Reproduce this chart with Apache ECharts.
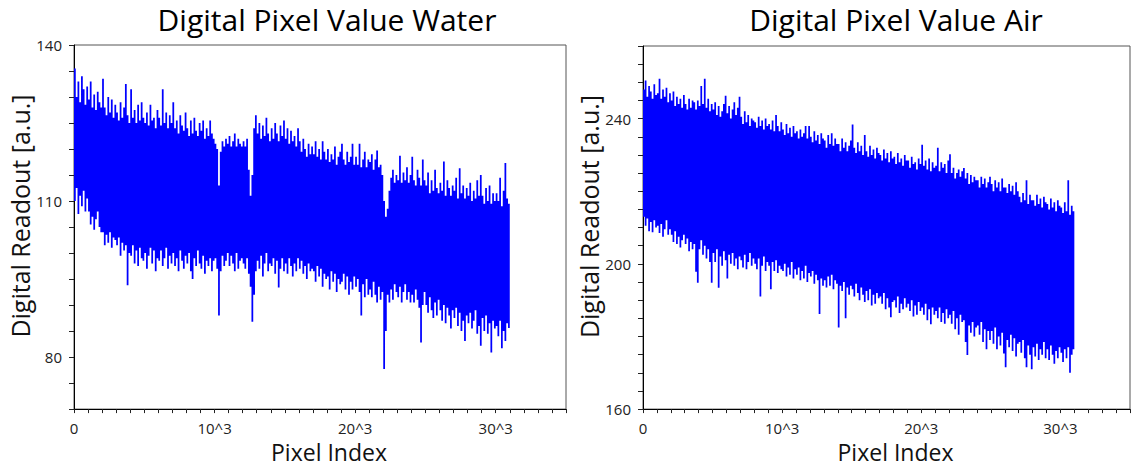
<!DOCTYPE html>
<html><head><meta charset="utf-8">
<script src="https://cdn.jsdelivr.net/npm/echarts@6/dist/echarts.min.js"></script>
<style>html,body{margin:0;padding:0;background:#fff}#c{width:1133px;height:468px}</style>
</head><body><div id="c"></div>
<script>
// ---- data ----
const titles = ['Digital Pixel Value Water', 'Digital Pixel Value Air'];
const xName = 'Pixel Index';
const yName = 'Digital Readout [a.u.]';
const xTickValues = [0, 10000, 20000, 30000];
const xTickLabels = ['0', '10^3', '20^3', '30^3'];
const waterYLabels = [80, 110, 140];
const airYLabels = [160, 200, 240];

// upper / lower extent of the trace, one pair per 125-pixel-index bin (0 .. 31000)
const STEP = 125;
const waterHi = [
 135.5,130,133,129,134,131.5,128.5,132, 129.5,133,128,130.5,127.5,131,129,128,
 133.5,128,126.5,130,127,129.5,126,128.5, 127,125.5,129,126,128,132.5,126.5,125,
 131.5,126,127.5,125,128.5,125.5,129,126, 125,127,124.5,128.5,125.5,126,124,127.5,
 126,124.5,131.5,125,127,124,126.5,125, 129,124,125.5,123,126.5,124.5,123.5,127,
 124,122.5,125.5,123,126,123.5,122.5,125, 123.5,125.5,122,124,122.5,125.5,123,122,
 121,120,113,119.5,121.5,120.5,122,121, 122.5,120.5,121.5,123,120.5,122,121,120.5,
 121.5,120.5,122,116,111,115,124,126.5, 123,125,122,124.5,122.5,126,123,121.5,
 124,122,125,123,121.5,124.5,122.5,125.5, 122,124,121,123.5,121.5,122.5,120.5,124,
 121.5,119.5,122,120,118.5,121,119,120.5, 119,121.5,118.5,120,118,121.5,119.5,118,
 120,117.5,119,118,120.5,117,118.5,119.5, 121,118,117,119.5,117.5,118.5,121,117,
 118.5,117,121,116.5,118,119.5,116.5,118, 117.5,119,116,118,119.7,116.5,117,115,
 110,107,108.5,112,114.5,116,113.5,115, 114,118.7,113.5,115.5,114,116.5,113.5,115,
 118.5,114,113,116,114.5,113,118,114, 113,115.5,111.5,114,112,116,112.5,111.5,
 113.5,112,117.6,111,114,112.5,111,113, 112,114.5,110.5,116.3,111.5,113,110.5,112.5,
 111,113.5,110,112,110.5,114,111,115, 111,109.5,112.5,110,113,109.5,111.5,110,
 111.5,110,114.5,109,112,117.3,110.5,109.5
];
const waterLo = [
 110,112.5,107.5,111,109,112,108,110.5, 108,105.5,107,104.5,106.5,108,105,104,
 104,101.5,103.5,102,104,101,103,102.5, 101.5,103,99.5,102,100.5,101.5,93.8,100,
 99.5,101.5,98,100.5,97.5,101,99,98.5, 100,97,99.5,101,98,100.5,96.5,99,
 98.5,100.5,97.5,99,101,97,99.5,98, 100,97.5,99,96.5,100.5,98.5,97,99.5,
 98,100,96.5,95,99,97.5,100.5,98, 97,99.5,96,98.5,97.5,99,96.5,98.5,
 99,97,88,96.5,99.5,97.5,98.5,100, 97.5,99.5,98,96.5,100,97,98.5,99,
 98,97,99,96,93.5,86.8,92,96.5, 98.5,97,99.5,95.5,98,100,96.5,98,
 97.5,99,96,98.5,93.4,97,99,96.5, 98,96,99,97.5,95.5,98,96.5,99,
 97,98.5,96,97.5,95,98,96.5,97, 96.5,94.5,97.5,95.5,97,93.5,96,95,
 95.5,93,96.5,94.5,96,92.5,95,94, 94.5,96,93,95.5,92,94.5,93,95.5,
 93.5,95,92.5,88,94,91.5,95,92, 93,91.5,94.5,92,90.5,93.5,91,92.5,
 77.7,85,92,90.5,93,91,94,92.5, 91.5,93.5,90.5,92.5,94,91,92.5,90.5,
 92,90.5,93,91,89.5,82.8,90,92.5, 90,88.5,91.5,89,87.5,90.5,88,91,
 89,87,90,86.5,89.5,88,85.5,89, 87.5,89.5,86,88.5,85,87,83.1,88,
 86.5,88.5,85.5,87,89,84.5,86,82.2, 87.5,85,88,84.5,86.5,80.9,87,85.5,
 86,84,87,81.7,85,83.1,86.5,85.6
];
const airHi = [
 248,250.5,246,249,247.5,245.5,249.5,246.5, 247,251,245.5,248,246,248.5,244.5,247,
 245,247.5,243.5,246,244,245.5,243,246.5, 244,242.5,245.5,243,245,244.5,242.5,245,
 243.5,249,244,251,243,245.5,242,244, 242.5,244.5,241,243.5,240.5,242,244,246.3,
 241.5,243.5,240,242.5,244.5,241,243,246, 240.5,238.5,242,239,241,238,240,239.5,
 239,237.5,240.5,238,239.5,237,240,238, 238.5,237,239.5,236.5,241,238,236.5,239,
 237,235.5,238.5,236,237.5,235,238,236, 236.5,234.5,237,235,236,238,234.5,238,
 235,233.5,236.5,234,235.5,233,236,234.5, 234,232,235.5,233,236,232.5,234.5,233,
 233,231,234.5,232,233.5,231,232.5,234, 238.4,232,230.5,233.5,231,232.5,230,235.5,
 231,229.5,232.5,230,231.5,229,232,230.5, 230,228.5,231.5,229,230.5,228,231,229,
 229.5,227.5,230.5,228,229,227,230,228.5, 228.5,226.5,229.5,227.5,228,226,229,227.5,
 232.8,227,228.5,226,229,225.5,228,226.5, 227,232,225.5,228,226.5,227.5,225,228.5,
 230.2,225,226.5,223.5,225,226,224,225.5, 226.4,223.5,225,222,224.5,222.5,224,223,
 223,221,224,222,223.5,221,222.5,224, 222,220,223,221,222.5,220,223.5,221,
 221,219.5,222,220,221.5,219,222.5,220, 218.5,217,219.5,217.5,223,216.5,219,217.5,
 217.5,216,219,216.5,218,215.5,218.5,217, 216.5,215,218,215.5,217,214.5,217.5,216,
 215.5,214,217,214.5,223,213.5,216,214.5
];
const airLo = [
 213,210.5,212.5,209,211.5,208.7,212,210, 210.5,208.5,211,207.5,209.5,212,208,209.5,
 208,206,209,205.5,207.5,204.5,206.5,208, 205.5,207,203.5,206,204,205.5,197.8,194.8,
 204,206.5,202.5,205,201.5,204,200.5,194.8, 203,200.5,204,193.4,202,199.5,203.5,201,
 196,202.5,200,203,199.5,201.5,198.5,202, 201,199,202.5,198.5,200.5,203,199.5,201.5,
 200,198.5,201.5,191,199.5,202,198,200.5, 199.5,193,200.5,198,201,197.5,199.5,198.5,
 198,200,196.5,199,197,200.5,196,198.5, 197,199,195.5,198,196,199.5,195,197.5,
 196.5,198,194.5,197,195.5,186.2,196,194, 195.5,193.5,196.5,194,197,193,195.5,194.5,
 182.5,194,192.5,195,185,193.5,191.5,194, 193,191,194.5,192,190,193.5,191.5,189.5,
 192.5,190,193,188.5,191.5,189,192,190.5, 191,189,192,187.5,190.5,188,185.3,189.5,
 190,188,191,186.5,189,187.5,190.5,188, 189,187,190,185.5,188.5,186,189.5,187,
 188,186,189,184.5,187.5,183.4,188,186, 187,185,188,184,186.5,183.5,187.5,185,
 186,183.5,187,182,185,180.5,186,184, 184.5,178.5,174.9,183,181,184,180,182.5,
 183,180.5,184,178.5,182,176.5,181.5,179, 181.5,178,182.5,176.5,180,177.5,181,175.3,
 171.5,179,177,180.5,176,179.5,174.5,178, 178.5,175.5,179,174,171.5,177.5,175,171,
 177,174.5,178,173.5,176.5,175,178.5,174, 176.5,173.5,177.5,175,172.5,176,174,177,
 175.5,173,176.5,174,177,170,175,176.5
];

// ---- chart ----
const FONT = 'Open Sans';
const BLUE = '#0000ff';

// one filled outline per panel: each 125-index bin spans from its low to its high value
function traceSeries(gi, hi, lo) {
  return {
    type: 'custom', xAxisIndex: gi, yAxisIndex: gi, silent: true, clip: true,
    data: [[0, lo[0], hi[0]]], encode: { x: 0, y: [1, 2] },
    renderItem: function (params, api) {
      const pts = [];
      for (let i = 0; i < hi.length; i++) {
        pts.push(api.coord([i * STEP, hi[i]]));
        pts.push(api.coord([(i + 1) * STEP, hi[i]]));
      }
      for (let i = lo.length - 1; i >= 0; i--) {
        pts.push(api.coord([(i + 1) * STEP, lo[i]]));
        pts.push(api.coord([i * STEP, lo[i]]));
      }
      return { type: 'polygon', shape: { points: pts }, style: { fill: BLUE, stroke: null } };
    }
  };
}
function xAxis(gi) {
  return {
    type: 'value', gridIndex: gi, min: 0, max: 35000, interval: 5000,
    name: xName, nameLocation: 'middle', nameGap: 28,
    nameTextStyle: { fontSize: 23, color: '#111', fontFamily: FONT, padding: [0, 0, 0, 18] },
    axisLine: { show: true, lineStyle: { color: '#000', width: 1 } },
    axisTick: { show: true, length: 4, lineStyle: { color: '#222' } },
    minorTick: { show: true, splitNumber: 5, length: 4, lineStyle: { color: '#222' } },
    splitLine: { show: false }, minorSplitLine: { show: false },
    axisLabel: {
      fontSize: 15, color: '#222', fontFamily: FONT, margin: 11,
      formatter: function (v) { const k = xTickValues.indexOf(v); return k >= 0 ? xTickLabels[k] : ''; }
    }
  };
}
function yAxis(gi, min, max, labels) {
  return {
    type: 'value', gridIndex: gi, min: min, max: max, interval: 5,
    name: yName, nameLocation: 'middle', nameGap: 39,
    nameTextStyle: { fontSize: 25, color: '#111', fontFamily: FONT, padding: [0, 0, 0, 22] },
    axisLine: { show: true, lineStyle: { color: '#000', width: 1 } },
    axisTick: { show: true, length: 5, lineStyle: { color: '#222' } },
    splitLine: { show: false },
    axisLabel: {
      fontSize: 15, color: '#222', fontFamily: FONT, margin: 12,
      formatter: function (v) { return labels.indexOf(v) >= 0 ? String(v) : ''; }
    }
  };
}

const chart = echarts.init(document.getElementById('c'), null, { renderer: 'svg' });
chart.setOption({
  animation: false,
  backgroundColor: '#fff',
  title: [
    { text: titles[0], left: 322, top: -1, textAlign: 'center',
      textStyle: { fontSize: 30, fontWeight: 'normal', color: '#000', fontFamily: FONT } },
    { text: titles[1], left: 891, top: -1, textAlign: 'center',
      textStyle: { fontSize: 30, fontWeight: 'normal', color: '#000', fontFamily: FONT } }
  ],
  grid: [
    { left: 74, right: 567, top: 45, bottom: 52, show: true, borderColor: '#555', borderWidth: 1 },
    { left: 643, right: 1, top: 46, bottom: 51, show: true, borderColor: '#555', borderWidth: 1 }
  ],
  xAxis: [xAxis(0), xAxis(1)],
  yAxis: [yAxis(0, 70, 140, waterYLabels), yAxis(1, 160, 260, airYLabels)],
  series: [traceSeries(0, waterHi, waterLo), traceSeries(1, airHi, airLo)]
});
</script></body></html>
